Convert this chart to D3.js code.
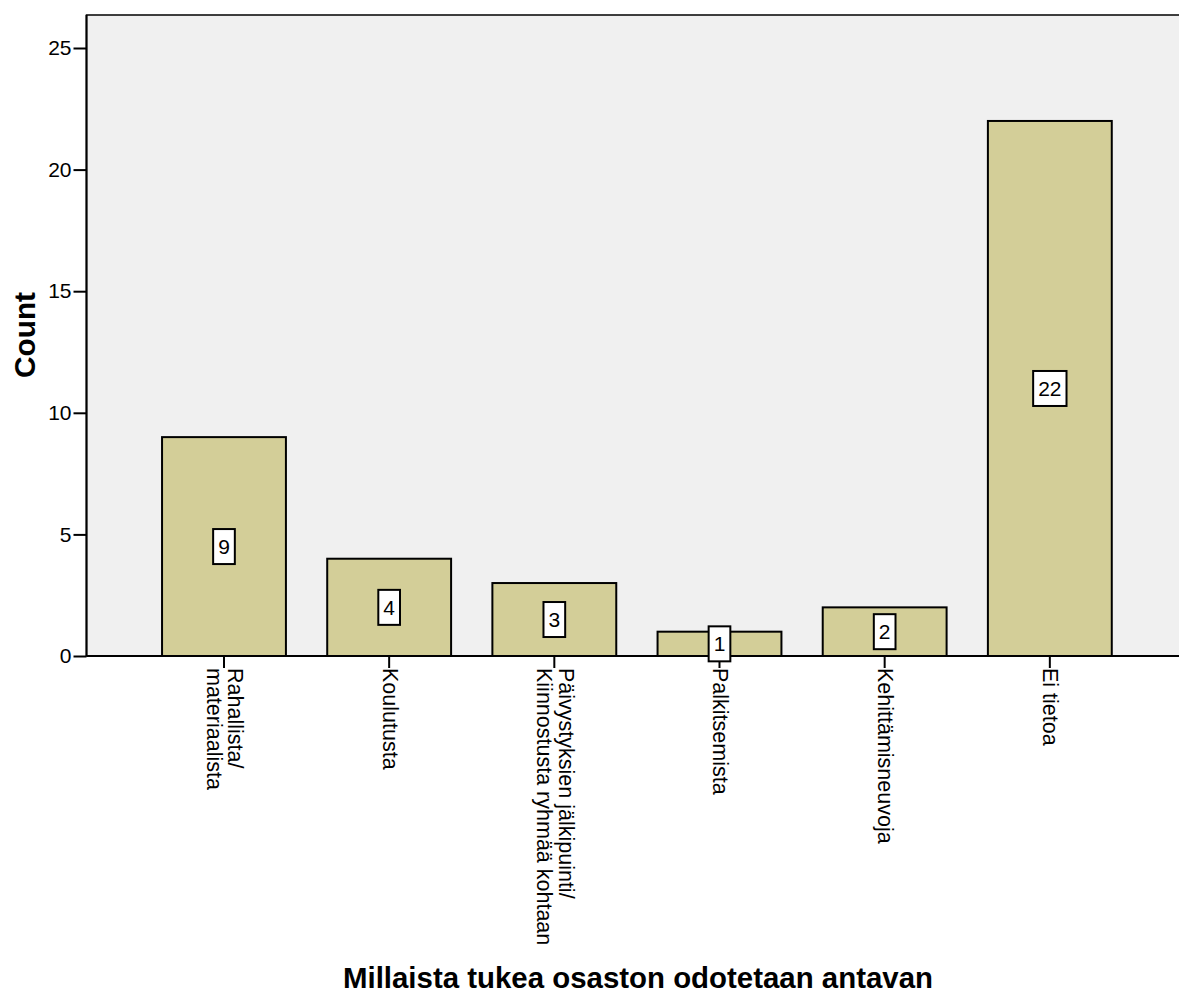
<!DOCTYPE html>
<html><head><meta charset="utf-8">
<script src="https://cdn.jsdelivr.net/npm/d3@7"></script>
<style>body{margin:0;background:#fff;} svg{display:block;font-family:"Liberation Sans",Arial,sans-serif;}</style>
</head><body><svg id="c" width="1179" height="994"></svg>
<script>
const categories = [["Rahallista/","materiaalista"],["Koulutusta"],["Päivystyksien jälkipuinti/","Kiinnostusta ryhmää kohtaan"],["Palkitsemista"],["Kehittämisneuvoja"],["Ei tietoa"]];
const counts = [9,4,3,1,2,22];
const yTicks = [0,5,10,15,20,25];
const xTitle = "Millaista tukea osaston odotetaan antavan";
const yTitle = "Count";

const svg = d3.select("#c");
const L = 86.5, T = 15, B = 656, R = 1190;
const y = d3.scaleLinear().domain([0,25]).range([B,48]);
const keys = categories.map(c=>c.join(" "));
const x = d3.scaleBand().domain(keys).range([141.4, 141.4+6*165.17]).paddingInner(0.25).paddingOuter(0.125);

svg.append("rect").attr("x",L).attr("y",T).attr("width",R-L).attr("height",B-T)
  .attr("fill","#f0f0f0").attr("stroke","#000").attr("stroke-width",1.5);

svg.selectAll("rect.bar").data(counts).join("rect").attr("class","bar")
  .attr("x",(d,i)=>x(keys[i])).attr("width",x.bandwidth())
  .attr("y",d=>y(d)).attr("height",d=>y(0)-y(d))
  .attr("fill","#d3ce98").attr("stroke","#000").attr("stroke-width",2);

// axes
const yAxis = d3.axisLeft(y).tickValues(yTicks).tickSize(13).tickPadding(2);
const gy = svg.append("g").attr("transform",`translate(${L},0)`).call(yAxis);
gy.select(".domain").remove();
gy.selectAll(".tick line").attr("stroke","#000").attr("stroke-width",2);
gy.selectAll(".tick text").attr("font-size",21).attr("fill","#000").attr("font-family","Liberation Sans, Arial");

svg.append("line").attr("x1",L).attr("x2",R).attr("y1",B).attr("y2",B).attr("stroke","#000").attr("stroke-width",2);
svg.append("line").attr("x1",L).attr("x2",L).attr("y1",T).attr("y2",B).attr("stroke","#000").attr("stroke-width",2);

const xAxis = d3.axisBottom(x).tickSize(12).tickFormat("");
const gx = svg.append("g").attr("transform",`translate(0,${B})`).call(xAxis);
gx.select(".domain").remove();
gx.selectAll(".tick line").attr("stroke","#000").attr("stroke-width",2);

// rotated category labels
const lh = 21.5, fs = 21.5;
categories.forEach((lines,i)=>{
  const cx = x(keys[i]) + x.bandwidth()/2;
  const t = svg.append("text").attr("transform",`translate(${cx},${B+12}) rotate(90)`)
    .attr("font-size",fs).attr("fill","#000");
  const n = lines.length;
  lines.forEach((s,j)=>{
    t.append("tspan").attr("x",0).attr("y",(j-(n-1)/2)*lh + 0.35*fs - 1).text(s);
  });
});

// value labels
counts.forEach((d,i)=>{
  const cx = x(keys[i]) + x.bandwidth()/2;
  const cy = y(d/2);
  const g = svg.append("g");
  const txt = g.append("text").attr("x",cx).attr("y",cy).attr("text-anchor","middle")
    .attr("dominant-baseline","central").attr("font-size",21).attr("fill","#000").text(d);
  const w = txt.node().getComputedTextLength();
  g.insert("rect","text").attr("x",cx-w/2-5).attr("y",cy-17.5).attr("width",w+10).attr("height",35)
    .attr("fill","#fff").attr("stroke","#000").attr("stroke-width",2);
});

// titles
svg.append("text").attr("x",638).attr("y",988).attr("text-anchor","middle")
  .attr("font-size",29).attr("font-weight","bold").attr("textLength",590).attr("lengthAdjust","spacingAndGlyphs").text(xTitle);
svg.append("text").attr("transform","translate(35,335) rotate(-90)").attr("text-anchor","middle")
  .attr("font-size",29).attr("font-weight","bold").attr("textLength",86).attr("lengthAdjust","spacingAndGlyphs").text(yTitle);
</script></body></html>
